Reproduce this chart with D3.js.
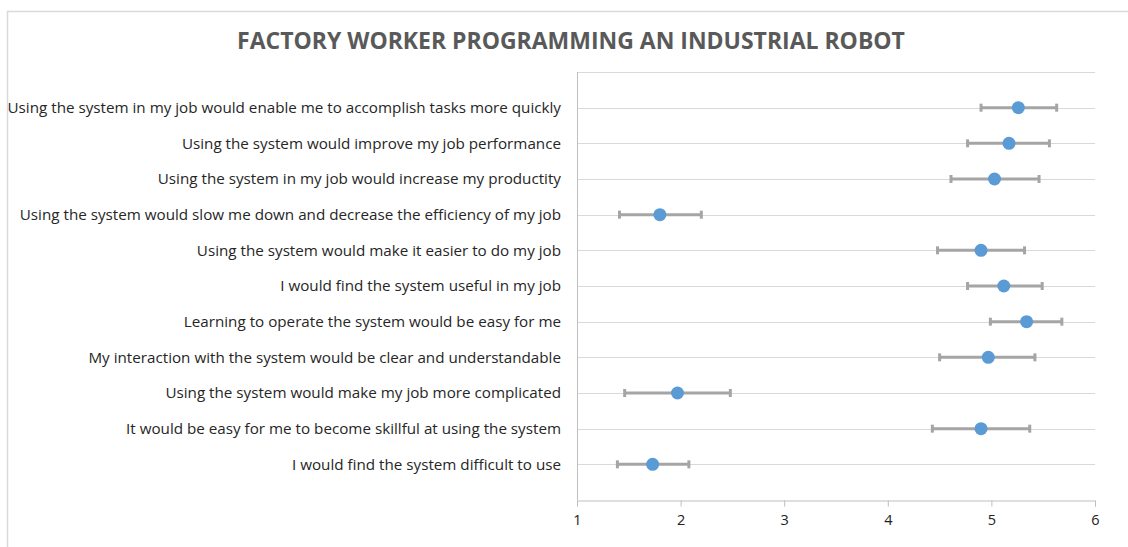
<!DOCTYPE html>
<html>
<head>
<meta charset="utf-8">
<script src="https://cdn.jsdelivr.net/npm/d3@7/dist/d3.min.js"></script>
<style>
  html, body { margin: 0; padding: 0; background: #fff; }
  svg { display: block; }
</style>
</head>
<body>
<svg id="chart" width="1128" height="547"></svg>
<script>
// ---- Data (top to bottom) ----
const categories = [
  "Using the system in my job would enable me to accomplish tasks more quickly",
  "Using the system would improve my job performance",
  "Using the system in my job would increase my productity",
  "Using the system would slow me down and decrease the efficiency of my job",
  "Using the system would make it easier to do my job",
  "I would find the system useful in my job",
  "Learning to operate the system would be easy for me",
  "My interaction with the system would be clear and understandable",
  "Using the system would make my job more complicated",
  "It would be easy for me to become skillful at using the system",
  "I would find the system difficult to use"
];
const means = [5.26, 5.17, 5.03, 1.80, 4.90, 5.12, 5.34, 4.97, 1.97, 4.90, 1.73];
const lowerBounds = [4.90, 4.77, 4.61, 1.41, 4.48, 4.77, 4.99, 4.50, 1.46, 4.43, 1.39];
const upperBounds = [5.63, 5.56, 5.46, 2.20, 5.32, 5.49, 5.68, 5.42, 2.48, 5.37, 2.08];
const xTicks = [1, 2, 3, 4, 5, 6];
const titleText = "FACTORY WORKER PROGRAMMING  AN INDUSTRIAL ROBOT";

// ---- Layout ----
const svg = d3.select("#chart");
const plot = { left: 577, right: 1095, top: 72, bottom: 500 };
const x = d3.scaleLinear().domain([1, 6]).range([plot.left, plot.right]);
const y = d3.scaleLinear().domain([0, 12]).range([plot.bottom, plot.top]);
const rowVal = i => categories.length - i;

// chart border
svg.append("path")
  .attr("d", `M7.5,547 L7.5,11.5 L1128,11.5`)
  .attr("fill", "none").attr("stroke", "#D9D9D9").attr("stroke-width", 1.5);

// title
const title = svg.append("text")
  .attr("x", 571).attr("y", 49)
  .attr("text-anchor", "middle")
  .attr("font-family", "'Open Sans', 'Noto Sans', sans-serif")
  .attr("font-weight", "bold")
  .attr("fill", "#595959")
  .attr("font-size", 20)
  .text(titleText);
{
  const w = title.node().getComputedTextLength();
  title.attr("font-size", 20 * 668 / w);
}

// gridlines
svg.append("g").selectAll("line")
  .data(d3.range(1, 13))
  .join("line")
  .attr("x1", plot.left).attr("x2", plot.right)
  .attr("y1", d => Math.round(y(d)) + 0.5).attr("y2", d => Math.round(y(d)) + 0.5)
  .attr("stroke", "#D9D9D9").attr("stroke-width", 1);

// left axis line
svg.append("line")
  .attr("x1", plot.left + 0.5).attr("x2", plot.left + 0.5)
  .attr("y1", plot.top).attr("y2", plot.bottom)
  .attr("stroke", "#BFBFBF").attr("stroke-width", 1);

// bottom axis
const xAxis = svg.append("g")
  .attr("transform", `translate(0,${plot.bottom + 0.5})`)
  .attr("font-size", 14.5)
  .attr("font-family", "'Open Sans', 'Noto Sans', sans-serif")
  .call(d3.axisBottom(x).tickValues(xTicks).tickFormat(d3.format("d")).tickSizeInner(6).tickSizeOuter(6).tickPadding(8));
xAxis.attr("font-size", 14.5).attr("font-family", "'Open Sans', 'Noto Sans', sans-serif");
xAxis.select(".domain").attr("stroke", "#BFBFBF");
xAxis.selectAll(".tick line").attr("stroke", "#BFBFBF");
xAxis.selectAll(".tick text")
  .style("font-size", "14.5px")
  .attr("fill", "#222");

// category labels
const labels = svg.append("g").selectAll("text")
  .data(categories)
  .join("text")
  .attr("x", 561)
  .attr("y", (d, i) => y(rowVal(i)))
  .attr("dy", "0.35em")
  .attr("text-anchor", "end")
  .attr("font-family", "'Open Sans', 'Noto Sans', sans-serif")
  .attr("font-size", 13)
  .attr("fill", "#262626")
  .text(d => d);
{
  const w = labels.nodes()[0].getComputedTextLength();
  labels.attr("font-size", 13 * 554 / w);
}

// error bars
const eb = svg.append("g").selectAll("g")
  .data(categories.map((c, i) => ({ i, lo: lowerBounds[i], hi: upperBounds[i], m: means[i] })))
  .join("g");
eb.append("line")
  .attr("x1", d => x(d.lo)).attr("x2", d => x(d.hi))
  .attr("y1", d => y(rowVal(d.i))).attr("y2", d => y(rowVal(d.i)))
  .attr("stroke", "#A5A5A5").attr("stroke-width", 3);
eb.append("line")
  .attr("x1", d => x(d.lo)).attr("x2", d => x(d.lo))
  .attr("y1", d => y(rowVal(d.i)) - 4).attr("y2", d => y(rowVal(d.i)) + 4)
  .attr("stroke", "#A5A5A5").attr("stroke-width", 3);
eb.append("line")
  .attr("x1", d => x(d.hi)).attr("x2", d => x(d.hi))
  .attr("y1", d => y(rowVal(d.i)) - 4).attr("y2", d => y(rowVal(d.i)) + 4)
  .attr("stroke", "#A5A5A5").attr("stroke-width", 3);

// points
svg.append("g").selectAll("circle")
  .data(means)
  .join("circle")
  .attr("cx", d => x(d))
  .attr("cy", (d, i) => y(rowVal(i)))
  .attr("r", 6.5)
  .attr("fill", "#5B9BD5");
</script>
</body>
</html>
